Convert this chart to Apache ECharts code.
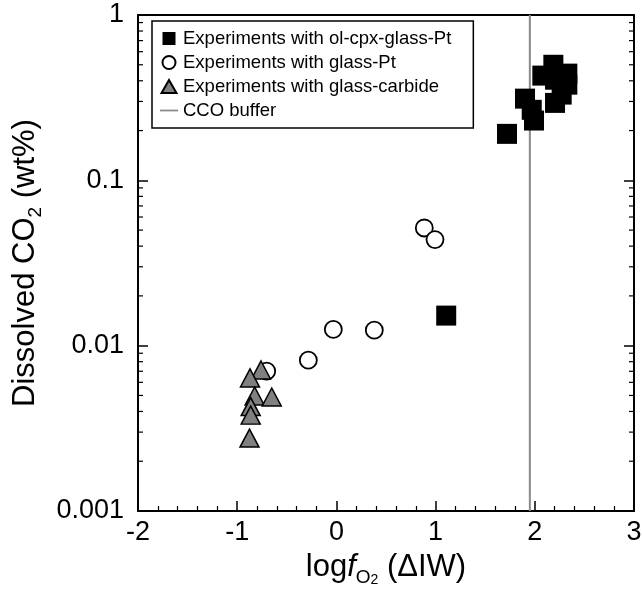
<!DOCTYPE html>
<html><head><meta charset="utf-8">
<script src="https://cdn.jsdelivr.net/npm/echarts/dist/echarts.min.js"></script>
<style>html,body{margin:0;padding:0;background:#fff}#c{width:642px;height:592px}</style>
</head><body><div id="c"></div>
<script>
// ---- data ----
const seriesNames = ['Experiments with ol-cpx-glass-Pt', 'Experiments with glass-Pt', 'Experiments with glass-carbide', 'CCO buffer'];
const xTicks = [-2, -1, 0, 1, 2, 3];
const yTickLabels = ['0.001', '0.01', '0.1', '1'];
const yMinorTicks = [0.002,0.003,0.004,0.005,0.006,0.007,0.008,0.009,
                     0.02,0.03,0.04,0.05,0.06,0.07,0.08,0.09,
                     0.2,0.3,0.4,0.5,0.6,0.7,0.8,0.9];
const olCpxX = [1.72, 1.107, 1.901, 1.969, 1.992, 2.187, 2.076, 2.328, 2.328, 2.271, 2.204, 2.204];
const olCpxY = [0.191, 0.0152, 0.312, 0.267, 0.230, 0.500, 0.430, 0.442, 0.379, 0.330, 0.294, 0.406];
const glassPtX = [0.886, 0.994, -0.031, 0.382, -0.283, -0.703];
const glassPtY = [0.0515, 0.0438, 0.01253, 0.0124, 0.00817, 0.00701];
const carbideX = [-0.760, -0.871, -0.824, -0.652, -0.864, -0.864, -0.876];
const carbideY = [0.00713, 0.00638, 0.00496, 0.00489, 0.00428, 0.0038, 0.00276];
const ccoBufferX = 1.95;
const xMin = -2, xMax = 3, yMin = 0.001, yMax = 1;

// ---- chart ----
const FONT = '"Liberation Sans", Arial, Helvetica, sans-serif';
const pair = (xs, ys) => xs.map((x, i) => [x, ys[i]]);
const chart = echarts.init(document.getElementById('c'), null, {renderer: 'canvas'});

const axisLineStyle = {color: '#000', width: 2};
const majorTick = {show: true, inside: true, length: 10, lineStyle: {color: '#000', width: 1.5}};
const xMinor = {show: true, splitNumber: 5, length: 5, lineStyle: {color: '#000', width: 1.2}};

const option = {
  animation: false,
  backgroundColor: '#fff',
  grid: {left: 138, top: 15, width: 496, height: 496, containLabel: false, outerBoundsMode: 'none', show: false},
  xAxis: [{
    type: 'value', min: xMin, max: xMax, interval: 1, position: 'bottom',
    axisLine: {show: true, onZero: false, lineStyle: axisLineStyle},
    axisTick: majorTick, minorTick: xMinor,
    splitLine: {show: false}, minorSplitLine: {show: false},
    axisLabel: {show: true, fontSize: 27, color: '#000', fontFamily: FONT, margin: 8,
      formatter: v => String(xTicks[Math.round(v - xMin)])},
    name: '{a|log}{f|f}{o|O}{t|2}{a| (ΔIW)}',
    nameLocation: 'middle', nameGap: 36,
    nameTextStyle: {rich: {
      a: {fontSize: 31, fontFamily: FONT, color: '#000', lineHeight: 40},
      f: {fontSize: 31, fontFamily: FONT, color: '#000', fontStyle: 'italic', lineHeight: 40},
      o: {fontSize: 19, fontFamily: FONT, color: '#000', lineHeight: 17, verticalAlign: 'bottom'},
      t: {fontSize: 14, fontFamily: FONT, color: '#000', lineHeight: 11, verticalAlign: 'bottom'}
    }}
  }, {
    type: 'value', min: xMin, max: xMax, interval: 1, position: 'top',
    axisLine: {show: true, onZero: false, lineStyle: axisLineStyle},
    axisTick: {show: false}, minorTick: {show: false},
    splitLine: {show: false}, axisLabel: {show: false}
  }],
  yAxis: [{
    type: 'log', logBase: 10, min: yMin, max: yMax, position: 'left',
    axisLine: {show: true, onZero: false, lineStyle: axisLineStyle},
    axisTick: majorTick, minorTick: {show: false},
    splitLine: {show: false},
    axisLabel: {show: true, fontSize: 27, color: '#000', fontFamily: FONT, margin: 14,
      formatter: v => yTickLabels[Math.round(Math.log10(v)) + 3]},
    name: '{a|Dissolved CO}{b|2}{a| (wt%)}',
    nameLocation: 'middle', nameGap: 86, nameRotate: 90,
    nameTextStyle: {rich: {
      a: {fontSize: 31, fontFamily: FONT, color: '#000', lineHeight: 40},
      b: {fontSize: 19, fontFamily: FONT, color: '#000', lineHeight: 18, verticalAlign: 'bottom'}
    }}
  }, {
    type: 'log', logBase: 10, min: yMin, max: yMax, position: 'right',
    axisLine: {show: true, onZero: false, lineStyle: axisLineStyle},
    axisTick: majorTick, minorTick: {show: false},
    splitLine: {show: false}, axisLabel: {show: false}
  }],
  legend: {
    show: true, orient: 'vertical', left: 152, top: 21,
    padding: [8, 22, 8, 8], itemGap: 5,
    itemWidth: 18, itemHeight: 13,
    borderColor: '#000', borderWidth: 1.5, backgroundColor: '#fff', borderRadius: 0,
    textStyle: {fontSize: 18.5, fontFamily: FONT, color: '#000'},
    data: [
      {name: seriesNames[0], icon: 'path://M0,0H10V10H0Z'},
      {name: seriesNames[1], icon: 'circle'},
      {name: seriesNames[2], icon: 'path://M5,0L10,8.7L0,8.7Z'},
      {name: seriesNames[3], icon: 'path://M0,0H20V2H0Z'}
    ]
  },
  series: [
    {
      name: seriesNames[3], type: 'line', xAxisIndex: 0, yAxisIndex: 0,
      data: [[ccoBufferX, yMin], [ccoBufferX, yMax]],
      symbol: 'none', color: '#8a8a8a',
      lineStyle: {color: '#8a8a8a', width: 2}, z: 1, silent: true
    },
    {
      name: 'minor', type: 'custom', xAxisIndex: 0, yAxisIndex: 0,
      data: yMinorTicks.map(v => [xMin, v]), silent: true, z: 1,
      renderItem: function (params, api) {
        const p = api.coord([xMin, api.value(1)]);
        const cs = params.coordSys;
        const L = 5;
        return {type: 'group', children: [
          {type: 'line', shape: {x1: cs.x, y1: p[1], x2: cs.x + L, y2: p[1]}, style: {stroke: '#000', lineWidth: 1.2}},
          {type: 'line', shape: {x1: cs.x + cs.width, y1: p[1], x2: cs.x + cs.width - L, y2: p[1]}, style: {stroke: '#000', lineWidth: 1.2}}
        ]};
      }
    },
    {
      name: seriesNames[1], type: 'scatter', xAxisIndex: 0, yAxisIndex: 0,
      data: pair(glassPtX, glassPtY), symbol: 'circle', symbolSize: 17,
      color: '#fff',
      itemStyle: {color: '#fff', borderColor: '#000', borderWidth: 1.8, opacity: 1}, z: 3
    },
    {
      name: seriesNames[0], type: 'scatter', xAxisIndex: 0, yAxisIndex: 0,
      data: pair(olCpxX, olCpxY), symbol: 'rect', symbolSize: 20,
      color: '#000',
      itemStyle: {color: '#000', opacity: 1}, z: 4
    },
    {
      name: seriesNames[2], type: 'scatter', xAxisIndex: 0, yAxisIndex: 0,
      data: pair(carbideX, carbideY), symbol: 'triangle', symbolSize: [19, 18],
      color: '#808080',
      itemStyle: {color: '#808080', borderColor: '#000', borderWidth: 1.5, opacity: 1}, z: 5
    }
  ]
};
chart.setOption(option);
</script>
</body></html>
